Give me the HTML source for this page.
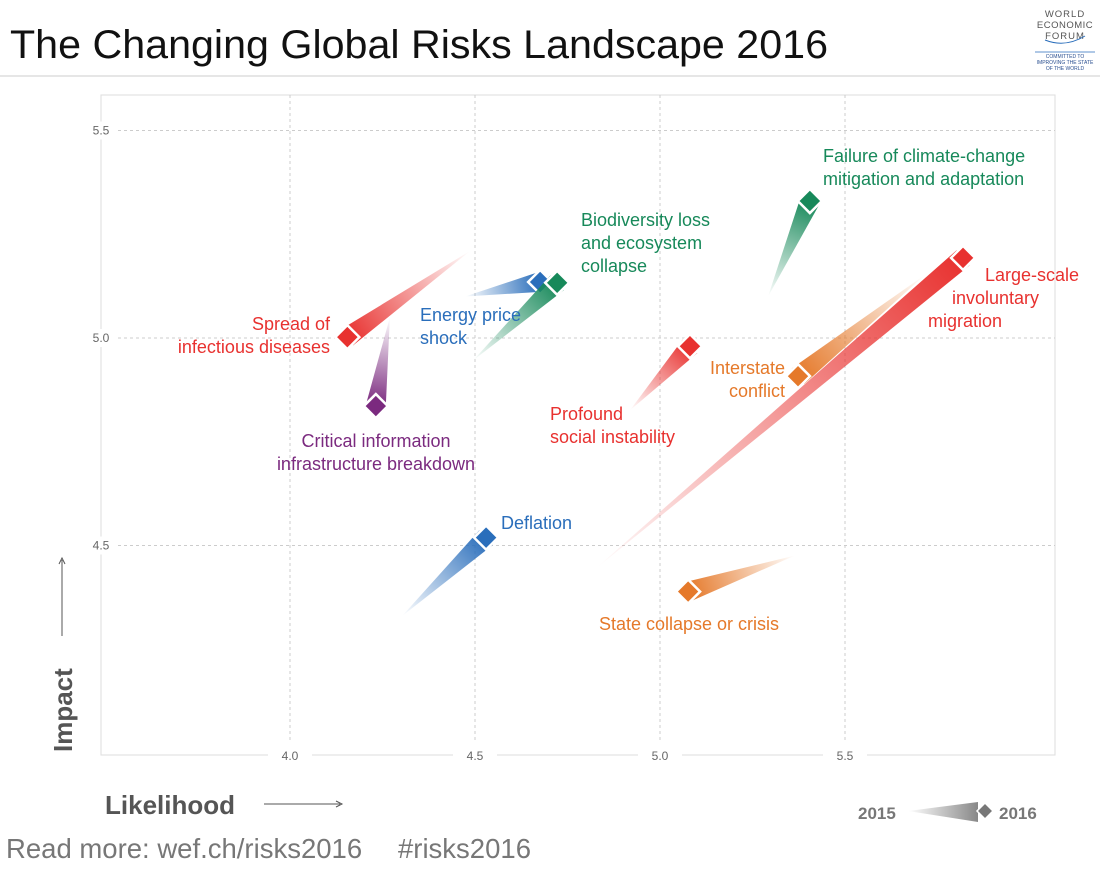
<!DOCTYPE html>
<html><head><meta charset="utf-8"><style>
html,body{margin:0;padding:0;background:#fff;}
body{width:1100px;height:869px;overflow:hidden;font-family:"Liberation Sans",sans-serif;}
</style></head><body>
<svg id="chart" width="1100" height="869" xmlns="http://www.w3.org/2000/svg" font-family="Liberation Sans, sans-serif">
<text x="10" y="58" font-size="40" fill="#111" textLength="818" lengthAdjust="spacingAndGlyphs">The Changing Global Risks Landscape 2016</text>
<line x1="0" y1="76" x2="1100" y2="76" stroke="#ccc" stroke-width="1"/>
<g fill="#555" text-anchor="middle" font-size="9.5">
<text x="1065" y="17" letter-spacing="1">WORLD</text>
<text x="1065" y="28" letter-spacing="0.5">ECONOMIC</text>
<text x="1065" y="39" letter-spacing="1">FORUM</text>
<path d="M1045 40 Q1065 48 1085 36" stroke="#2a6ebb" fill="none" stroke-width="1"/>
<line x1="1035" y1="52" x2="1095" y2="52" stroke="#2a6ebb" stroke-width="0.8"/>
<text x="1065" y="58" font-size="5" fill="#2a4f90">COMMITTED TO</text>
<text x="1065" y="64" font-size="5" fill="#2a4f90">IMPROVING THE STATE</text>
<text x="1065" y="70" font-size="5" fill="#2a4f90">OF THE WORLD</text>
</g>
<g id="grid"></g>
<g id="marks"></g>
<g id="labels"></g>
<text transform="translate(72,752) rotate(-90)" font-size="26" font-weight="bold" fill="#555">Impact</text>
<line x1="62" y1="636" x2="62" y2="560" stroke="#555" stroke-width="1"/>
<path d="M59 564 L62 558 L65 564" fill="none" stroke="#555"/>
<text x="105" y="814" font-size="26" font-weight="bold" fill="#555">Likelihood</text>
<line x1="264" y1="804" x2="340" y2="804" stroke="#555" stroke-width="1"/>
<path d="M336 801 L342 804 L336 807" fill="none" stroke="#555"/>
<g>
<defs><linearGradient id="lg" x1="0" x2="1"><stop offset="0" stop-color="#888" stop-opacity="0"/><stop offset="1" stop-color="#888"/></linearGradient></defs>
<text x="858" y="819" font-size="17" font-weight="bold" fill="#777">2015</text>
<path d="M908 811 L978 802 L978 822 Z" fill="url(#lg)"/>
<path d="M985 803 L993 811 L985 819 L977 811 Z" fill="#777" stroke="#fff" stroke-width="1.5"/>
<text x="999" y="819" font-size="17" font-weight="bold" fill="#777">2016</text>
</g>
<text x="6" y="858" font-size="27.5" fill="#777">Read more: wef.ch/risks2016</text>
<text x="398" y="858" font-size="27.5" fill="#777">#risks2016</text>
</svg>
<script>
const xTicks=[4.0,4.5,5.0,5.5];
const yTicks=[4.5,5.0,5.5];
const names=["Spread of infectious diseases","Critical information infrastructure breakdown","Energy price shock","Biodiversity loss and ecosystem collapse","Failure of climate-change mitigation and adaptation","Large-scale involuntary migration","Interstate conflict","Profound social instability","Deflation","State collapse or crisis"];
const like2015=[4.487,4.27,4.473,4.495,5.292,4.827,5.716,4.919,4.303,5.365];
const imp2015=[5.21,5.05,5.10,4.946,5.10,4.445,5.152,4.826,4.33,4.476];
const like2016=[4.155,4.232,4.676,4.722,5.405,5.819,5.373,5.081,4.53,5.076];
const imp2016=[5.002,4.836,5.135,5.133,5.33,5.193,4.908,4.98,4.519,4.389];
const colors=["#e8312f","#7b2a7f","#2a6ebb","#17895a","#17895a","#e8312f","#e5792a","#e8312f","#2a6ebb","#e5792a"];
const labelLines=[["Spread of","infectious diseases"],["Critical information","infrastructure breakdown"],["Energy price","shock"],["Biodiversity loss","and ecosystem","collapse"],["Failure of climate-change","mitigation and adaptation"],["Large-scale","involuntary","migration"],["Interstate","conflict"],["Profound","social instability"],["Deflation"],["State collapse or crisis"]];
const labelPos=[[330,330,"end"],[376,447,"middle"],[420,321,"start"],[581,226,"start"],[823,162,"start"],[1079,281,"end"],[785,374,"end"],[550,420,"start"],[501,529,"start"],[689,630,"middle"]];
const lineOffsets=[[0,0],[0,0],[0,0],[0,0,0],[0,0],[0,-40,-77],[0,0],[0,0],[0],[0]];
const X=v=>290+(v-4.0)*370;
const Y=v=>338-(v-5.0)*415;
const NS="http://www.w3.org/2000/svg";
function mk(t,a,p){const e=document.createElementNS(NS,t);for(const k in a)e.setAttribute(k,a[k]);p.appendChild(e);return e;}
const grid=document.getElementById('grid');
const r=mk('path',{d:'M101 95 L1055 95 L1055 755 L101 755 Z',fill:'none',stroke:'#ddd'},grid);


xTicks.forEach(t=>{const l=mk('line',{x1:X(t),y1:95,x2:X(t),y2:740,stroke:'#ccc','stroke-dasharray':'3,3'},grid);


mk('rect',{x:X(t)-22,y:748,width:44,height:14,fill:'#fff'},grid);
const tx=mk('text',{x:X(t),y:760,'font-size':12,fill:'#666','text-anchor':'middle'},grid);tx.textContent=t.toFixed(1);

});
yTicks.forEach(t=>{const l=mk('line',{x1:118,y1:Y(t),x2:1055,y2:Y(t),stroke:'#ccc','stroke-dasharray':'3,3'},grid);


mk('rect',{x:90,y:Y(t)-9,width:22,height:18,fill:'#fff'},grid);
const tx=mk('text',{x:101,y:Y(t)+4,'font-size':12,fill:'#666','text-anchor':'middle'},grid);tx.textContent=t.toFixed(1);

});
const marks=document.getElementById('marks'),labels=document.getElementById('labels');
const defs=mk('defs',{},marks);
names.forEach((n,i)=>{
 const x0=X(like2015[i]),y0=Y(imp2015[i]),x1=X(like2016[i]),y1=Y(imp2016[i]);
 const g=mk('linearGradient',{id:'g'+i,gradientUnits:'userSpaceOnUse',x1:x0,y1:y0,x2:x1,y2:y1},defs);
 mk('stop',{offset:0,'stop-color':colors[i],'stop-opacity':0},g);
 mk('stop',{offset:1,'stop-color':colors[i],'stop-opacity':1},g);
 const dx=x1-x0,dy=y1-y0,L=Math.hypot(dx,dy),nx=-dy/L*10,ny=dx/L*10;
 const w=mk('path',{d:`M${x0} ${y0} L${x1+nx} ${y1+ny} L${x1-nx} ${y1-ny} Z`,fill:`url(#g${i})`},marks);
 
 
 const d=mk('path',{d:`M${x1} ${y1-12} L${x1+12} ${y1} L${x1} ${y1+12} L${x1-12} ${y1} Z`,fill:colors[i],stroke:'#fff','stroke-width':2.5},marks);
 
 
 const [lx,ly,a]=labelPos[i];
 const t=mk('text',{x:lx,y:ly,'font-size':18,fill:colors[i],'text-anchor':a},labels);
 
 
 labelLines[i].forEach((s,k)=>{const sp=mk('tspan',{x:lx+lineOffsets[i][k],dy:k?23:0},t);sp.textContent=s;});
});
</script>
</body></html>
